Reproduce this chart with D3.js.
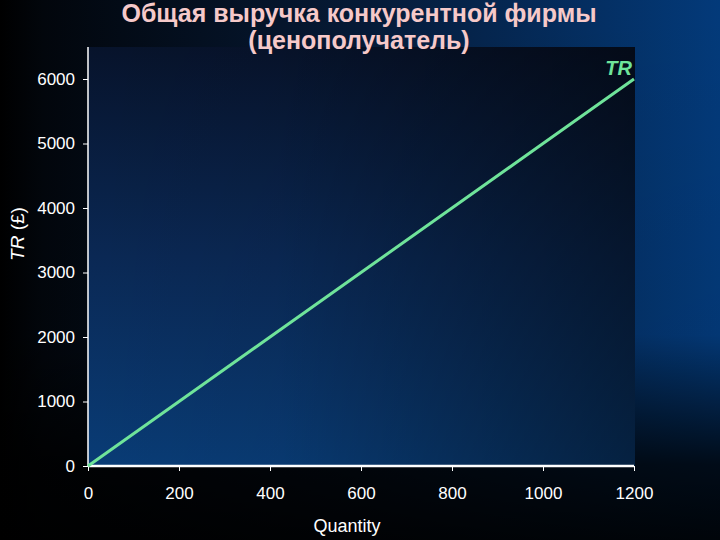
<html>
<head>
<script src="https://d3js.org/d3.v7.min.js"></script>
<style>
    body { margin: 0; background: #000; }
    svg { display: block; font-family: "Liberation Sans", Arial, sans-serif; }
    .axis path, .axis line { stroke: #ffffff; }
    .axis text { fill: #ffffff; font-size: 17px; }
</style>
</head>
<body>
<svg id="chart" width="720" height="540"></svg>
<script>
// Data
const quantity = [0, 200, 400, 600, 800, 1000, 1200];
const revenue = [0, 1000, 2000, 3000, 4000, 5000, 6000];
const xTicks = [0, 200, 400, 600, 800, 1000, 1200];
const yTicks = [0, 1000, 2000, 3000, 4000, 5000, 6000];
const titleLines = ["Общая выручка конкурентной фирмы", "(ценополучатель)"];

const svg = d3.select("svg#chart");
const width = +svg.attr("width");
const height = +svg.attr("height");
const plot = {left: 88, right: 635, top: 47, bottom: 466};

const defs = svg.append("defs");

// page background: black on the left, blue on the right, darker at the bottom
const bgH = defs.append("linearGradient").attr("id", "bgH")
    .attr("x1", 0).attr("y1", 0).attr("x2", 1).attr("y2", 0);
bgH.append("stop").attr("offset", 0).attr("stop-color", "#000000");
bgH.append("stop").attr("offset", 0.06).attr("stop-color", "#02060c");
bgH.append("stop").attr("offset", 0.5).attr("stop-color", "#061a36");
bgH.append("stop").attr("offset", 1).attr("stop-color", "#033a7a");

const bgV = defs.append("linearGradient").attr("id", "bgV")
    .attr("x1", 0).attr("y1", 0).attr("x2", 0).attr("y2", 1);
bgV.append("stop").attr("offset", 0).attr("stop-color", "#000").attr("stop-opacity", 0);
bgV.append("stop").attr("offset", 0.62).attr("stop-color", "#000").attr("stop-opacity", 0.05);
bgV.append("stop").attr("offset", 0.86).attr("stop-color", "#000").attr("stop-opacity", 0.8);
bgV.append("stop").attr("offset", 1).attr("stop-color", "#000").attr("stop-opacity", 0.92);

// plot area: dark navy on top, blue at bottom, darker towards the right
const plotV = defs.append("linearGradient").attr("id", "plotV")
    .attr("x1", 0).attr("y1", 0).attr("x2", 0).attr("y2", 1);
plotV.append("stop").attr("offset", 0).attr("stop-color", "#07132b");
plotV.append("stop").attr("offset", 0.5).attr("stop-color", "#0a2854");
plotV.append("stop").attr("offset", 1).attr("stop-color", "#093c76");

const plotH = defs.append("linearGradient").attr("id", "plotH")
    .attr("x1", 0).attr("y1", 0).attr("x2", 1).attr("y2", 0);
plotH.append("stop").attr("offset", 0).attr("stop-color", "#000").attr("stop-opacity", 0);
plotH.append("stop").attr("offset", 0.35).attr("stop-color", "#000").attr("stop-opacity", 0.05);
plotH.append("stop").attr("offset", 1).attr("stop-color", "#000").attr("stop-opacity", 0.45);

svg.append("rect").attr("width", width).attr("height", height).attr("fill", "url(#bgH)");
svg.append("rect").attr("width", width).attr("height", height).attr("fill", "url(#bgV)");

svg.append("rect")
    .attr("x", plot.left).attr("y", plot.top)
    .attr("width", plot.right - plot.left).attr("height", plot.bottom - plot.top)
    .attr("fill", "url(#plotV)");
svg.append("rect")
    .attr("x", plot.left).attr("y", plot.top)
    .attr("width", plot.right - plot.left).attr("height", plot.bottom - plot.top)
    .attr("fill", "url(#plotH)");

// scales
const x = d3.scaleLinear().domain([0, 1200]).range([plot.left, 634]);
const y = d3.scaleLinear().domain([0, 6000]).range([plot.bottom, 79]);

// axes
svg.append("g")
    .attr("class", "axis")
    .attr("transform", `translate(0,${plot.bottom})`)
    .call(d3.axisBottom(x).tickValues(xTicks).tickFormat(d3.format("d"))
        .tickSize(5).tickPadding(16).tickSizeOuter(0))
    .call(g => g.select(".domain").remove());

svg.append("g")
    .attr("class", "axis")
    .attr("transform", `translate(${plot.left},0)`)
    .call(d3.axisLeft(y).tickValues(yTicks).tickFormat(d3.format("d"))
        .tickSize(5).tickPadding(8).tickSizeOuter(0))
    .call(g => g.select(".domain").remove());

// axis lines
svg.append("line")
    .attr("x1", plot.left).attr("x2", plot.left)
    .attr("y1", plot.top).attr("y2", plot.bottom)
    .attr("stroke", "#ffffff").attr("stroke-width", 1.5);
svg.append("line")
    .attr("x1", plot.left).attr("x2", x(1200))
    .attr("y1", plot.bottom).attr("y2", plot.bottom)
    .attr("stroke", "#ffffff").attr("stroke-width", 2.5);

// TR line
const line = d3.line()
    .x((d, i) => x(quantity[i]))
    .y(d => y(d));
svg.append("path")
    .datum(revenue)
    .attr("fill", "none")
    .attr("stroke", "#6fe39a")
    .attr("stroke-width", 3)
    .attr("d", line);

svg.append("text")
    .attr("x", x(1200) - 2).attr("y", y(6000) - 4)
    .attr("text-anchor", "end")
    .style("font-size", "20px")
    .style("font-style", "italic")
    .style("font-weight", "bold")
    .style("fill", "#6fe39a")
    .text("TR");

// title
svg.selectAll("text.title").data(titleLines)
    .join("text")
    .attr("class", "title")
    .attr("x", 359)
    .attr("y", (d, i) => 22 + i * 27)
    .attr("text-anchor", "middle")
    .style("font-size", "25px")
    .style("font-weight", "bold")
    .style("fill", "#f6c9c9")
    .text(d => d);

// axis titles
svg.append("text")
    .attr("x", 347).attr("y", 532)
    .attr("text-anchor", "middle")
    .style("font-size", "18px")
    .style("fill", "#ffffff")
    .text("Quantity");

const yLabel = svg.append("text")
    .attr("transform", "translate(24,234) rotate(-90)")
    .attr("text-anchor", "middle")
    .style("font-size", "19px")
    .style("fill", "#ffffff");
yLabel.append("tspan").style("font-style", "italic").text("TR");
yLabel.append("tspan").text(" (£)");
</script>
</body>
</html>
